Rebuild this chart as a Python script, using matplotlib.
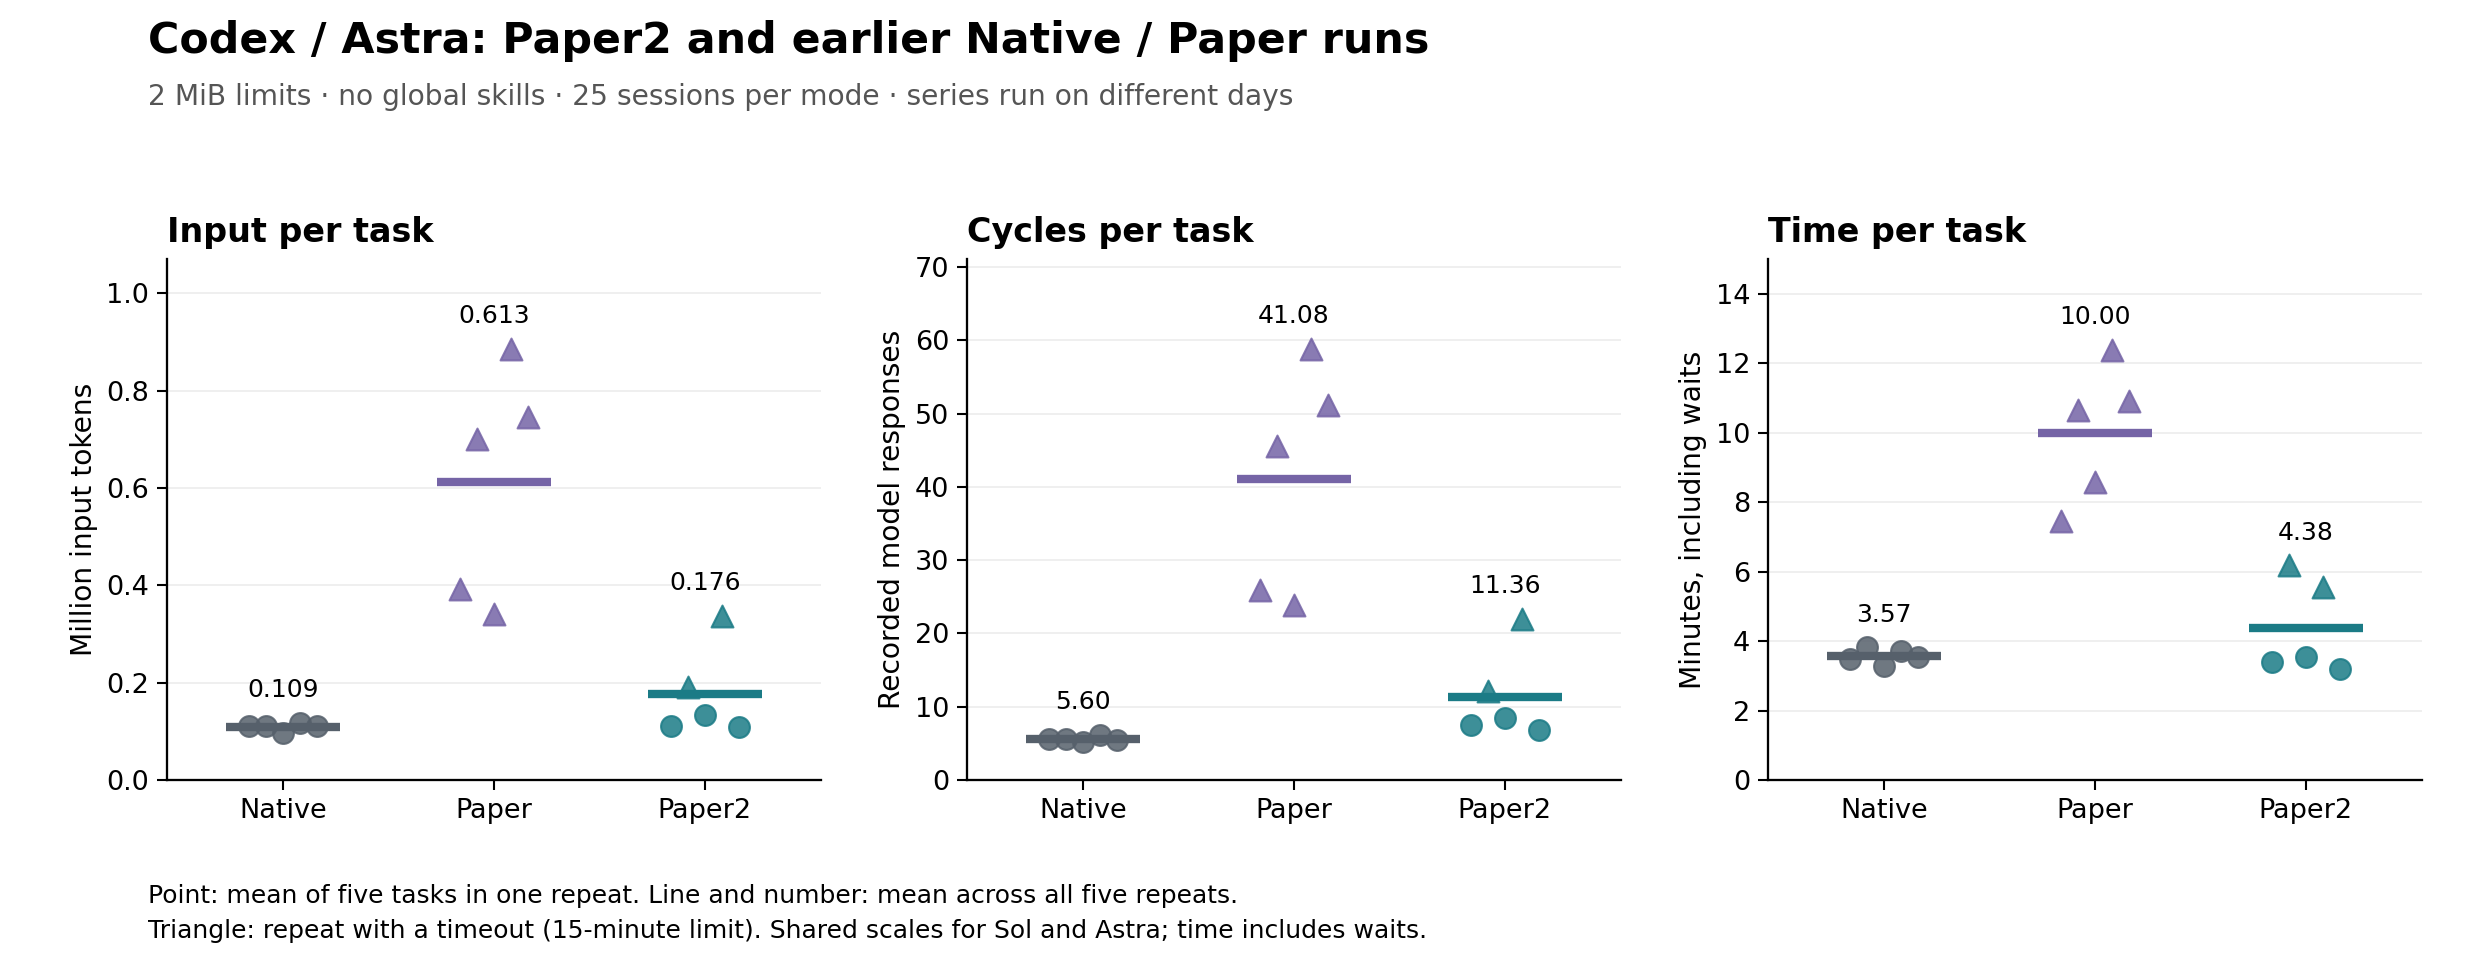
import matplotlib
matplotlib.use("Agg")
import matplotlib.pyplot as plt
import numpy as np

modes = ["Native", "Paper", "Paper2"]
colors = {"Native": "#56606b", "Paper": "#7564a6", "Paper2": "#1b7b86"}

panel_titles = ["Input per task", "Cycles per task", "Time per task"]
y_labels = ["Million input tokens", "Recorded model responses", "Minutes, including waits"]
y_limits = [1.07, 71.1, 15.0]
y_ticks = [[0.0, 0.2, 0.4, 0.6, 0.8, 1.0], [0, 10, 20, 30, 40, 50, 60, 70], [0, 2, 4, 6, 8, 10, 12, 14]]
label_fmt = ["{:.3f}", "{:.2f}", "{:.2f}"]

# per-repeat means (5 repeats per mode)
input_native = [0.111, 0.110, 0.097, 0.117, 0.110]
input_paper = [0.392, 0.700, 0.342, 0.885, 0.746]
input_paper2 = [0.110, 0.192, 0.133, 0.337, 0.108]

cycles_native = [5.6, 5.6, 5.2, 6.1, 5.5]
cycles_paper = [25.9, 45.6, 23.9, 58.8, 51.2]
cycles_paper2 = [7.5, 12.1, 8.4, 22.0, 6.8]

time_native = [3.49, 3.82, 3.29, 3.72, 3.53]
time_paper = [7.47, 10.66, 8.59, 12.38, 10.90]
time_paper2 = [3.40, 6.18, 3.55, 5.57, 3.20]

# timeout flags per repeat (True = triangle)
timeout_native = [False, False, False, False, False]
timeout_paper = [True, True, True, True, True]
timeout_paper2 = [False, True, False, True, False]

panels = [
    [input_native, input_paper, input_paper2],
    [cycles_native, cycles_paper, cycles_paper2],
    [time_native, time_paper, time_paper2],
]
timeouts = [timeout_native, timeout_paper, timeout_paper2]

fig = plt.figure(figsize=(16.44, 6.48), dpi=150)
lefts = [0.0677, 0.3921, 0.7169]
width = 0.2652
bottom = 0.1975
height = 0.536

offsets = np.array([-0.16, -0.08, 0.0, 0.08, 0.16])

for p in range(3):
    ax = fig.add_axes([lefts[p], bottom, width, height])
    for i, mode in enumerate(modes):
        vals = np.array(panels[p][i])
        c = colors[mode]
        xs = i + offsets
        to = np.array(timeouts[i])
        ax.scatter(xs[~to], vals[~to], s=100, marker="o", color=c, alpha=0.85,
                   edgecolors=c, linewidths=1.0, zorder=3)
        ax.scatter(xs[to], vals[to], s=110, marker="^", color=c, alpha=0.85,
                   edgecolors=c, linewidths=1.0, zorder=3)
        m = vals.mean()
        ax.plot([i - 0.27, i + 0.27], [m, m], color=c, lw=4.0, solid_capstyle="butt", zorder=4)
        ax.annotate(label_fmt[p].format(m), xy=(i, vals.max()), xytext=(0, 10),
                    textcoords="offset points", ha="center", va="bottom", fontsize=12)
    ax.set_xlim(-0.55, 2.55)
    ax.set_ylim(0, y_limits[p])
    ax.set_xticks(range(3))
    ax.set_xticklabels(modes)
    ax.set_yticks(y_ticks[p])
    if p == 0:
        ax.set_yticklabels([f"{t:.1f}" for t in y_ticks[p]])
    ax.tick_params(axis="both", labelsize=13, width=1.0, length=5)
    ax.set_ylabel(y_labels[p], fontsize=13.5)
    ax.set_title(panel_titles[p], loc="left", fontsize=16, fontweight="bold", pad=8)
    ax.grid(axis="y", color="#eeeeee", lw=0.9)
    ax.set_axisbelow(True)
    for s in ["top", "right"]:
        ax.spines[s].set_visible(False)
    for s in ["left", "bottom"]:
        ax.spines[s].set_linewidth(1.1)

fig.text(0.06, 0.958, "Codex / Astra: Paper2 and earlier Native / Paper runs",
         fontsize=20.5, fontweight="bold", ha="left", va="center")
fig.text(0.06, 0.90, "2 MiB limits · no global skills · 25 sessions per mode · series run on different days",
         fontsize=13.5, color="#555555", ha="left", va="center")
fig.text(0.06, 0.078, "Point: mean of five tasks in one repeat. Line and number: mean across all five repeats.",
         fontsize=12, ha="left", va="center")
fig.text(0.06, 0.042, "Triangle: repeat with a timeout (15-minute limit). Shared scales for Sol and Astra; time includes waits.",
         fontsize=12, ha="left", va="center")

fig.savefig("out.png", dpi=150)
